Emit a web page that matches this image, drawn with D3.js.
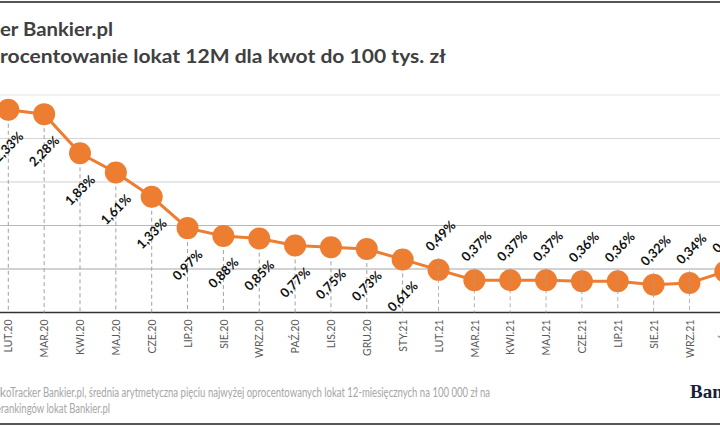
<!DOCTYPE html>
<html>
<head>
<meta charset="utf-8">
<script src="https://cdn.jsdelivr.net/npm/d3@7"></script>
<style>
  html, body { margin: 0; padding: 0; background: #fff; }
  svg { display: block; font-family: Lato, "Open Sans", sans-serif; }
</style>
</head>
<body>
<div id="chart"></div>
<script>
var categories = ["LUT.20", "MAR.20", "KWI.20", "MAJ.20", "CZE.20", "LIP.20", "SIE.20", "WRZ.20", "PAŹ.20", "LIS.20", "GRU.20", "STY.21",
                  "LUT.21", "MAR.21", "KWI.21", "MAJ.21", "CZE.21", "LIP.21", "SIE.21", "WRZ.21", "PAŹ.21"];
var values = [2.33, 2.28, 1.83, 1.61, 1.33, 0.97, 0.88, 0.85, 0.77, 0.75, 0.73, 0.61,
              0.49, 0.37, 0.37, 0.37, 0.36, 0.36, 0.32, 0.34, 0.47];
var yTicks = [0.5, 1, 1.5, 2, 2.5];

var W = 720, H = 427;
var orange = "#ED7D31";

var svg = d3.select("#chart").append("svg")
    .attr("width", W)
    .attr("height", H);

// the picture is a crop: plot area starts left of the frame
var x = d3.scalePoint()
    .domain(categories)
    .range([8.3, 8.3 + 35.85 * (categories.length - 1)]);

var y = d3.scaleLinear()
    .domain([0, 2.5])
    .range([312.5, 95]);

var fmt = function(v) { return v.toFixed(2).replace(".", ",") + "%"; };

// frame lines
svg.append("line").attr("x1", 0).attr("x2", W).attr("y1", 2).attr("y2", 2)
    .attr("stroke", "#555").attr("stroke-width", 2);
svg.append("line").attr("x1", 0).attr("x2", W).attr("y1", 424).attr("y2", 424)
    .attr("stroke", "#555").attr("stroke-width", 2);

// titles (left part is outside the crop)
svg.append("text").attr("x", 0).attr("y", 36).attr("text-anchor", "end").attr("font-weight", 700).attr("font-size", 19).attr("fill", "#404040")
    .text("LokoTrack");
svg.append("text").attr("x", 0).attr("y", 36).attr("font-weight", 700).attr("font-size", 19).attr("fill", "#404040")
    .attr("textLength", 113).attr("lengthAdjust", "spacingAndGlyphs")
    .text("er Bankier.pl");
svg.append("text").attr("x", 0).attr("y", 63).attr("text-anchor", "end").attr("font-weight", 700).attr("font-size", 19).attr("fill", "#404040")
    .text("Średnie op");
svg.append("text").attr("x", 0).attr("y", 63).attr("font-weight", 700).attr("font-size", 19).attr("fill", "#404040")
    .attr("textLength", 446).attr("lengthAdjust", "spacingAndGlyphs")
    .text("rocentowanie lokat 12M dla kwot do 100 tys. zł");

// gridlines
var gridColor = { 0.5: "#a6a6a6", 1: "#b8b8b8", 1.5: "#d0d0d0", 2: "#d6d6d6", 2.5: "#e6e6e6" };
svg.append("g").attr("class", "grid")
  .selectAll("line")
  .data(yTicks)
  .join("line")
    .attr("x1", 0).attr("x2", W)
    .attr("y1", function(d) { return y(d); })
    .attr("y2", function(d) { return y(d); })
    .attr("stroke", function(d) { return gridColor[d]; })
    .attr("stroke-width", 1.2);

// x axis
var xAxis = svg.append("g")
    .attr("class", "axis axis--x")
    .attr("transform", "translate(0," + y(0) + ")")
    .call(d3.axisBottom(x).tickSize(0).tickPadding(0));
xAxis.select(".domain").remove();
xAxis.selectAll("text")
    .attr("font-family", "Lato, sans-serif")
    .attr("font-size", 10.5)
    .attr("fill", "#595959")
    .style("text-anchor", "end")
    .attr("dx", "-7")
    .attr("dy", "0.35em")
    .attr("y", 0)
    .attr("transform", "rotate(-90)");

svg.append("line")
    .attr("x1", 0).attr("x2", W)
    .attr("y1", y(0)).attr("y2", y(0))
    .attr("stroke", "#333").attr("stroke-width", 1.6);

var pts = categories.map(function(c, i) { return { cat: c, v: values[i], above: i >= 12 }; });

// drop lines behind markers (labels below)
svg.append("g").selectAll("line")
  .data(pts.filter(function(d) { return !d.above; }))
  .join("line")
    .attr("x1", function(d) { return x(d.cat); })
    .attr("x2", function(d) { return x(d.cat); })
    .attr("y1", function(d) { return y(d.v); })
    .attr("y2", y(0))
    .attr("stroke", "#a0a0a0").attr("stroke-width", 1)
    .attr("stroke-dasharray", "4,3");

var line = d3.line()
    .x(function(d) { return x(d.cat); })
    .y(function(d) { return y(d.v); });

svg.append("path")
    .datum(pts)
    .attr("fill", "none")
    .attr("stroke", orange)
    .attr("stroke-width", 3)
    .attr("d", line);

svg.append("g").selectAll("circle")
  .data(pts)
  .join("circle")
    .attr("cx", function(d) { return x(d.cat); })
    .attr("cy", function(d) { return y(d.v); })
    .attr("r", 11)
    .attr("fill", orange);

// drop lines over markers (labels above)
svg.append("g").selectAll("line")
  .data(pts.filter(function(d) { return d.above; }))
  .join("line")
    .attr("x1", function(d) { return x(d.cat); })
    .attr("x2", function(d) { return x(d.cat); })
    .attr("y1", function(d) { return y(d.v) - 12; })
    .attr("y2", y(0))
    .attr("stroke", "#a0a0a0").attr("stroke-width", 1)
    .attr("stroke-dasharray", "4,3")
    .attr("opacity", 0.8);

// data labels
svg.append("g").selectAll("text")
  .data(pts)
  .join("text")
    .attr("transform", function(d) {
      var cx = x(d.cat) + (d.above ? 2 : 0);
      var cy = y(d.v) + (d.above ? -34 : 37);
      return "translate(" + cx + "," + cy + ") rotate(-45)";
    })
    .attr("text-anchor", "middle")
    .attr("dy", "0.35em")
    .attr("font-size", 13)
    .attr("font-weight", 700)
    .attr("fill", "#111")
    .text(function(d) { return fmt(d.v); });

// footer
var footColor = "#a6a6a6";
svg.append("text").attr("x", 6).attr("y", 397).attr("text-anchor", "end").attr("font-size", 12.5).attr("fill", footColor)
    .text("Źródło: Lok");
svg.append("text").attr("x", 6).attr("y", 397).attr("font-size", 12.5).attr("fill", footColor)
    .attr("textLength", 484).attr("lengthAdjust", "spacingAndGlyphs")
    .text("oTracker Bankier.pl, średnia arytmetyczna pięciu najwyżej oprocentowanych lokat 12-miesięcznych na 100 000 zł na");
svg.append("text").attr("x", 1).attr("y", 413).attr("text-anchor", "end").attr("font-size", 12.5).attr("fill", footColor)
    .text("podstawie ");
svg.append("text").attr("x", 1).attr("y", 413).attr("font-size", 12.5).attr("fill", footColor)
    .attr("textLength", 109).attr("lengthAdjust", "spacingAndGlyphs")
    .text("rankingów lokat Bankier.pl");

// logo
svg.append("text").attr("x", 690).attr("y", 398)
    .attr("font-family", "'Liberation Serif', 'DejaVu Serif', serif")
    .attr("font-weight", 700).attr("font-size", 19).attr("fill", "#15213b")
    .text("Bankier.pl");
</script>
</body>
</html>
